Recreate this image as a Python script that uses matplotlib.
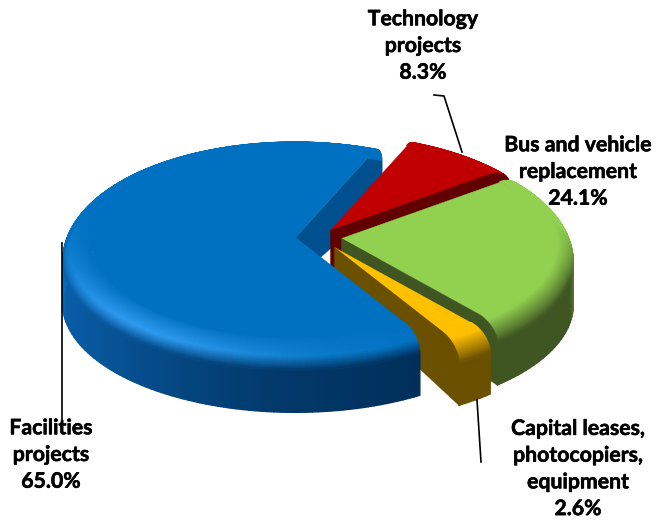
import numpy as np
import matplotlib
matplotlib.use("Agg")
import matplotlib.pyplot as plt
import matplotlib.patheffects as pe
from matplotlib.collections import PolyCollection
from matplotlib.colors import to_rgb

categories = ["Facilities\nprojects", "Technology\nprojects", "Bus and vehicle\nreplacement",
              "Capital leases,\nphotocopiers,\nequipment"]
shares = [65.0, 8.3, 24.1, 2.6]

# look of the pie, in pixels of the picture
centers = [(295, 237), (330, 230), (341, 238), (334, 247)]
tops = ["#0070C0", "#C00000", "#92D050", "#FFC000"]
walls = ["#0A62B0", "#600000", "#3F5522", "#6B5000"]
label_pos = [(51, 455), (423, 46), (578, 172), (578, 469)]
START = 23.0
A, B, P = 232.0, 108.6, 0.05
R_FLAT, BEVEL, WALL = 0.88, 19.0, 42.0


def pt(c, r, th, z=0.0):
    th = np.radians(th)
    u, v = r * np.sin(th), r * np.cos(th)
    w = 1 + P * v
    return c[0] + A * u / w, c[1] - B * v / w + z


def profile(t):
    # rounded rim: radius and drop for t in 0..1
    return R_FLAT + (1 - R_FLAT) * np.sin(t * np.pi / 2), BEVEL * (1 - np.cos(t * np.pi / 2))


def front(th):
    # 0 on the far side of the pie, 1 on the near side
    return np.clip((0.25 - np.cos(np.radians(th))) / 0.5, 0, 1)


def wall_color(i, th):
    top = np.array(to_rgb(tops[i]))
    base = np.array(to_rgb(walls[i]))
    if i == 0:
        # blue wall gets darker towards the front right
        dark = np.array(to_rgb("#002F5A"))
        k = np.interp(th % 360, [150, 185, 235, 270], [1, 0.8, 0.25, 0])
        base = base * (1 - k) + dark * k
    return top + (base - top) * front(th)


def rim_color(i, th, t):
    top = np.array(to_rgb(tops[i]))
    wall = wall_color(i, th)
    if i == 0:
        hi = np.exp(-((th % 360 - 222) / 42.0) ** 2)
        mid = top + (np.array(to_rgb("#2E9BF0")) - top) * hi
        if t < 0.6:
            return top + (mid - top) * t / 0.6
        return mid + (wall - mid) * (t - 0.6) / 0.4
    if t < 0.3:
        return top
    return top + (wall - top) * (t - 0.3) / 0.7


def add_polys(ax, polys, colors, z, lw=1.0):
    ax.add_collection(PolyCollection(polys, facecolors=colors, edgecolors=colors, linewidths=lw, zorder=z))


def end_wall(ax, i, th, z):
    c = centers[i]
    ts = np.linspace(0, 1, 10)
    rim = [pt(c, profile(t)[0], th, profile(t)[1]) for t in ts]
    poly = [c] + rim + [pt(c, 1, th, BEVEL + WALL), (c[0], c[1] + WALL)]
    dark = walls[i] if i else "#00508F"
    add_polys(ax, [poly], [dark], z, lw=0.3)


def body(ax, i, th0, th1, z, wall_end=None):
    c = centers[i]
    ths = np.arange(th0, th1 + 1.5, 1.5)
    ths[-1] = th1
    wths = ths if wall_end is None else ths[ths <= wall_end]
    polys, cols = [], []
    for a, b in zip(wths[:-1], wths[1:]):
        polys.append([pt(c, 1, a, BEVEL), pt(c, 1, b, BEVEL), pt(c, 1, b, BEVEL + WALL), pt(c, 1, a, BEVEL + WALL)])
        cols.append(wall_color(i, (a + b) / 2))
    add_polys(ax, polys, cols, z)
    ts = np.linspace(0, 1, 19)
    polys, cols = [], []
    for t0, t1 in zip(ts[:-1], ts[1:]):
        r0, z0 = profile(t0)
        r1, z1 = profile(t1)
        for a, b in zip(ths[:-1], ths[1:]):
            polys.append([pt(c, r0, a, z0), pt(c, r0, b, z0), pt(c, r1, b, z1), pt(c, r1, a, z1)])
            cols.append(rim_color(i, (a + b) / 2, (t0 + t1) / 2))
    add_polys(ax, polys, cols, z + 0.1, lw=0.8)
    flat = [c] + [pt(c, R_FLAT, a) for a in ths]
    add_polys(ax, [flat], [tops[i]], z + 0.2, lw=0.3)


fig = plt.figure(figsize=(6.65, 5.21), dpi=100)
ax = fig.add_axes([0, 0, 1, 1])
ax.set_xlim(0, 665)
ax.set_ylim(521, 0)
ax.axis("off")

# clockwise from the red slice: technology, bus, capital, facilities
order = [1, 2, 3, 0]
angle = START
spans = {}
for i in order:
    spans[i] = (angle, angle + shares[i] / sum(shares) * 360)
    angle = spans[i][1]

end_wall(ax, 0, spans[0][1], 1)
for n, i in enumerate([1, 2, 3]):
    z = 2 + n
    body(ax, i, spans[i][0], spans[i][1], z)
    end_wall(ax, i, spans[i][1], z + 0.3)
body(ax, 0, spans[0][0], spans[0][1], 6, wall_end=340)

# leader lines
ax.plot([434, 444, 462], [95, 96, 152], color="black", lw=1.2, zorder=8)
ax.plot([62, 62], [243, 430], color="black", lw=1.2, zorder=8)
ax.plot([477, 481], [400, 462], color="black", lw=1.2, zorder=8)

for name, share, (x, y) in zip(categories, shares, label_pos):
    t = ax.text(x, y, f"{name}\n{share:.1f}%", ha="center", va="center", family="Lato", weight="bold",
                fontsize=15.3, linespacing=1.42, color="black", zorder=9)
    t.set_path_effects([pe.withStroke(linewidth=0.4, foreground="black")])

fig.savefig("out.png", dpi=100)
